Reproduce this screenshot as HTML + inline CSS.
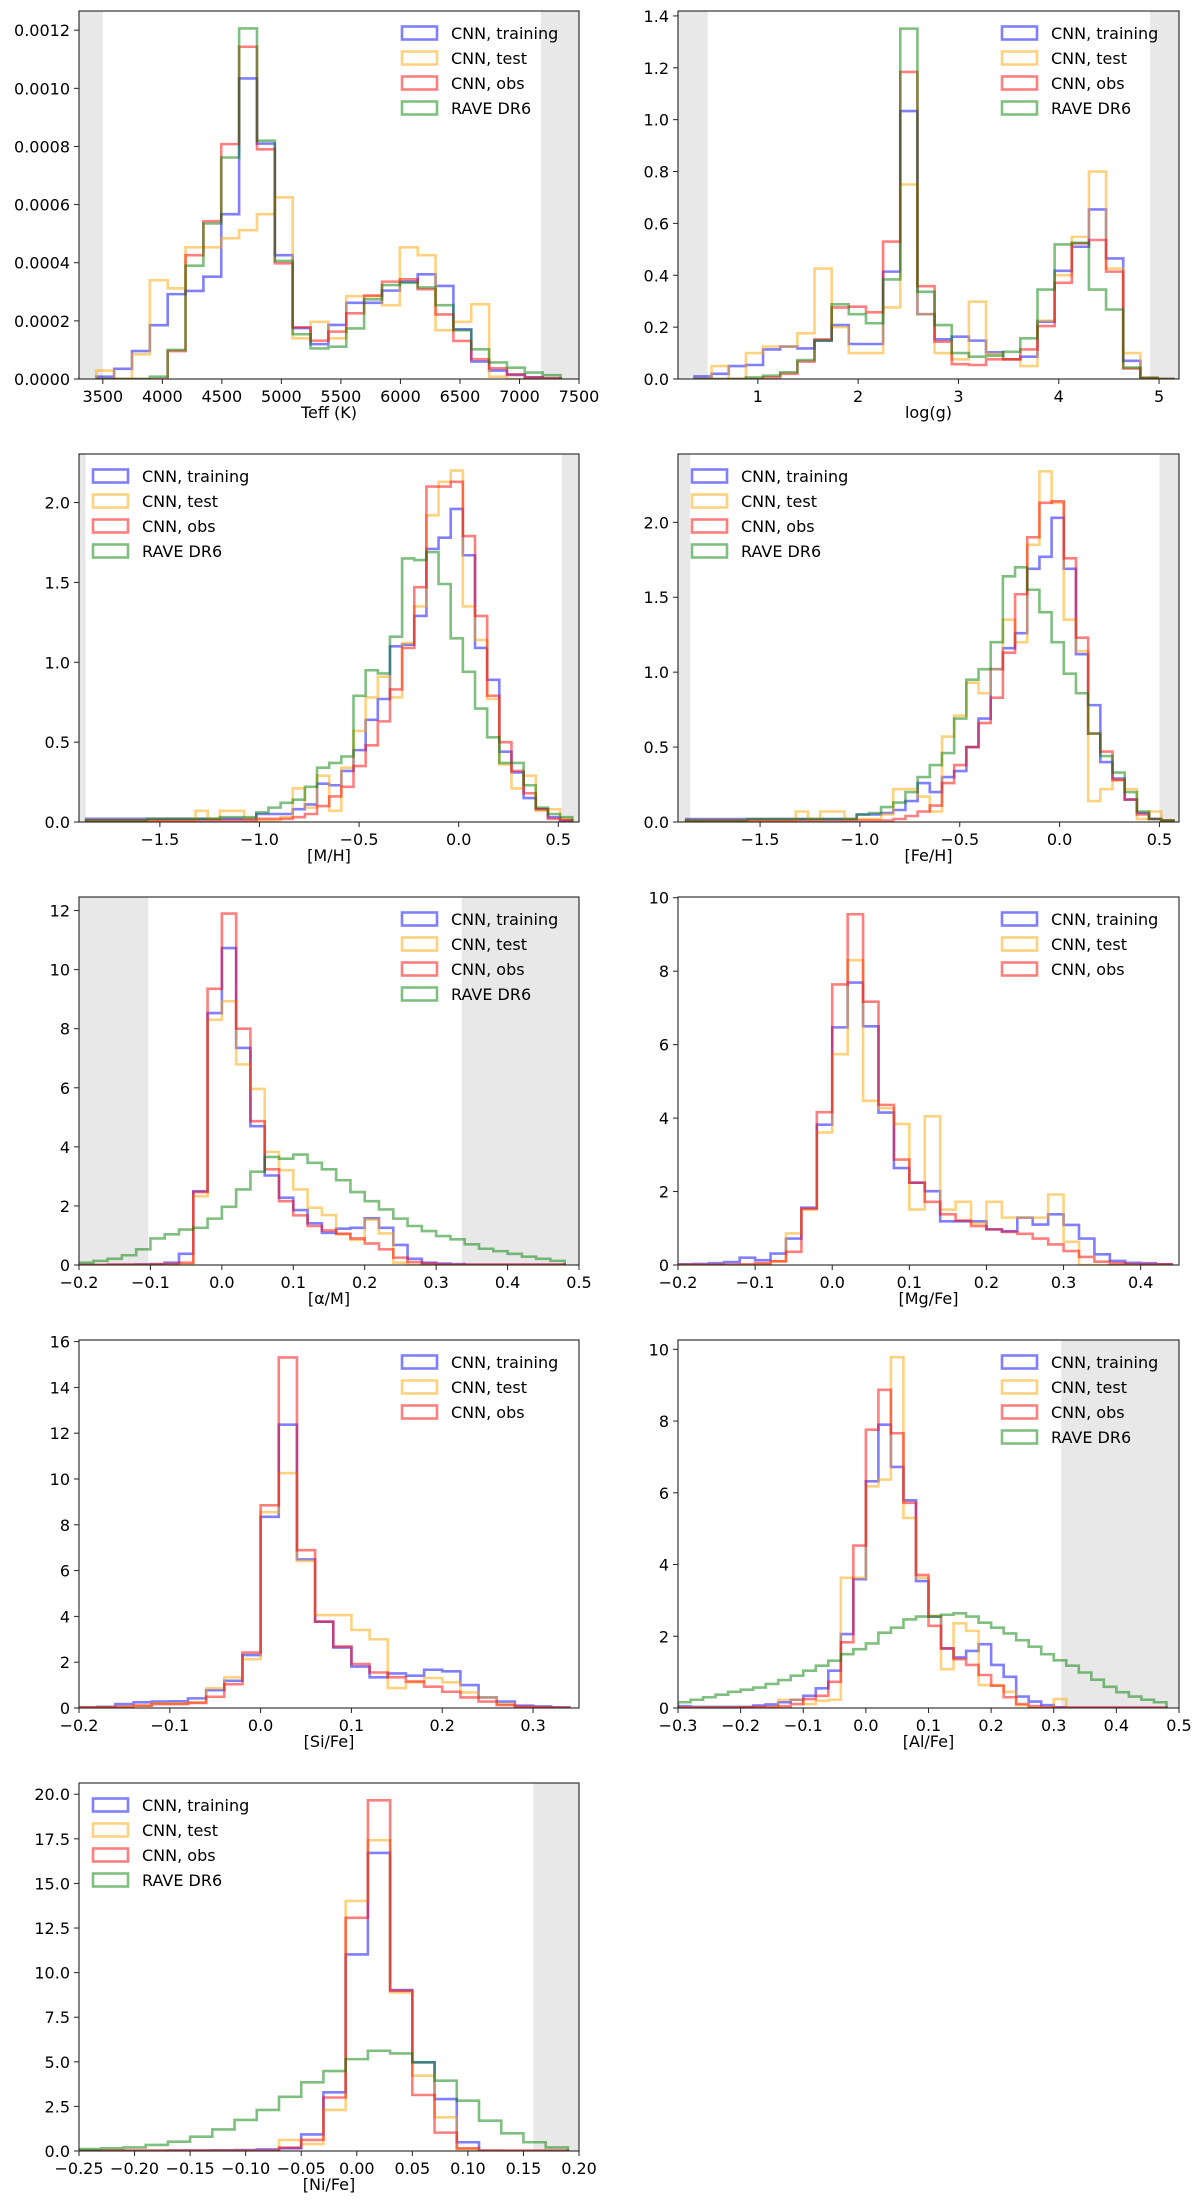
<!DOCTYPE html>
<html><head><meta charset="utf-8"><title>CNN vs RAVE DR6 histograms</title>
<style>
html,body{margin:0;padding:0;background:#fff;}
svg{display:block;}
text{font-family:"DejaVu Sans","Liberation Sans",sans-serif;fill:#000;}
</style></head>
<body>
<svg id="fig" width="1200" height="2202" viewBox="0 0 1200 2202" xmlns="http://www.w3.org/2000/svg"></svg>
<script>
// ---------- DATA (bin start, bin width in data units, and densities) ----------
const teffBin = [3445, 150];
const teffBlue   = [0.08,0.35,0.96,1.85,2.92,3.03,3.52,5.67,10.34,8.1,4.26,1.75,1.2,1.86,2.62,2.62,3.04,3.35,3.6,3.2,1.71,0.6,0.29,0.14,0.06,0.02];
const teffOrange = [0.29,0,0.85,3.4,3.12,4.53,4.53,4.84,5.12,5.67,6.25,1.4,1.97,1.4,2.85,2.85,2.54,4.53,4.26,1.68,1.97,2.57,0.08,0,0,0];
const teffRed    = [0,0,0,0,0.96,4.26,5.43,8.08,11.43,7.9,3.98,1.78,1.32,1.63,2.26,2.87,3.35,3.43,3.09,2.22,1.31,0.68,0.37,0.16,0.05,0.02];
const teffGreen  = [0,0,0,0.08,1.0,3.9,5.35,7.62,12.06,8.2,4.06,1.54,1.05,1.11,1.74,2.74,3.23,3.31,3.15,2.54,1.68,1.02,0.57,0.39,0.22,0.13];
const teffYTicks = ["0.0000","0.0002","0.0004","0.0006","0.0008","0.0010","0.0012"];
const teffXTicks = ["3500","4000","4500","5000","5500","6000","6500","7000","7500"];

const loggBin = [0.368, 0.171];
const loggBlue   = [0.01,0.02,0.05,0.054,0.114,0.125,0.118,0.148,0.208,0.135,0.135,0.414,1.033,0.25,0.153,0.163,0.148,0.103,0.076,0.086,0.221,0.417,0.51,0.654,0.465,0.07,0.004,0];
const loggOrange = [0,0.05,0,0.1,0.125,0.125,0.176,0.426,0.2,0.1,0.1,0.276,0.75,0.25,0.1,0.076,0.298,0.096,0.076,0.05,0.225,0.4,0.548,0.8,0.426,0.1,0.004,0];
const loggRed    = [0,0,0,0,0.006,0.02,0.067,0.153,0.276,0.279,0.257,0.53,1.184,0.358,0.144,0.057,0.054,0.076,0.076,0.114,0.204,0.371,0.523,0.536,0.414,0.04,0.004,0];
const loggGreen  = [0,0,0,0.006,0.013,0.026,0.073,0.148,0.288,0.25,0.215,0.384,1.351,0.336,0.208,0.1,0.086,0.09,0.105,0.157,0.345,0.519,0.525,0.345,0.268,0.044,0.004,0];
const loggYTicks = ["0.0","0.2","0.4","0.6","0.8","1.0","1.2","1.4"];
const loggXTicks = ["1","2","3","4","5"];

const mhBin = [-1.87, 0.061];
const mhBlue   = [0.02,0.02,0.02,0.02,0.02,0.02,0.02,0.02,0.02,0.02,0.02,0.02,0.02,0.02,0.05,0.05,0.05,0.08,0.11,0.24,0.23,0.32,0.45,0.64,0.77,1.1,1.11,1.29,1.71,1.78,1.96,1.67,1.09,0.89,0.44,0.31,0.15,0.08,0.03,0.01];
const mhOrange = [0.01,0.01,0.01,0.01,0.01,0.01,0.01,0.01,0.01,0.07,0.02,0.07,0.07,0.02,0.01,0.01,0.03,0.21,0.09,0.29,0.07,0.34,0.57,0.78,0.91,0.78,1.12,1.35,1.92,2.13,2.2,1.35,1.14,0.77,0.36,0.21,0.29,0.07,0.08,0.02];
const mhRed    = [0.01,0.01,0.01,0.01,0.01,0.01,0.01,0.01,0.01,0.01,0.01,0.01,0.01,0.01,0.02,0.02,0.02,0.03,0.05,0.1,0.16,0.22,0.35,0.48,0.63,0.83,1.09,1.47,2.1,2.1,2.13,1.79,1.29,0.79,0.5,0.32,0.18,0.08,0.02,0.01];
const mhGreen  = [0.01,0.01,0.01,0.01,0.01,0.02,0.02,0.02,0.02,0.02,0.02,0.03,0.03,0.03,0.06,0.09,0.12,0.14,0.22,0.34,0.37,0.41,0.79,0.95,0.93,1.16,1.65,1.64,1.69,1.49,1.15,0.94,0.71,0.53,0.37,0.37,0.23,0.09,0.05,0.03];
const mhYTicks = ["0.0","0.5","1.0","1.5","2.0"];
const mhXTicks = ["\u22121.5","\u22121.0","\u22120.5","0.0","0.5"];

const fehBin = [-1.87, 0.061];
const fehBlue   = [0.02,0.02,0.02,0.02,0.02,0.02,0.02,0.02,0.02,0.02,0.02,0.02,0.02,0.02,0.05,0.05,0.06,0.08,0.14,0.26,0.2,0.3,0.34,0.5,0.69,1.02,1.16,1.26,1.69,1.77,2.03,1.69,1.12,0.78,0.4,0.29,0.15,0.06,0.02,0.01];
const fehOrange = [0.01,0.01,0.01,0.01,0.01,0.01,0.01,0.01,0.01,0.07,0.02,0.07,0.07,0.02,0.02,0.02,0.05,0.22,0.22,0.17,0.07,0.57,0.71,0.93,0.86,1.02,1.35,1.2,1.85,2.34,2.13,1.35,1.14,0.14,0.22,0.28,0.22,0.02,0.07,0.01];
const fehRed    = [0.01,0.01,0.01,0.01,0.01,0.01,0.01,0.01,0.01,0.01,0.01,0.01,0.01,0.01,0.01,0.01,0.01,0.02,0.04,0.07,0.11,0.26,0.38,0.5,0.66,0.83,1.13,1.52,1.9,2.13,2.14,1.76,1.23,0.59,0.47,0.28,0.15,0.05,0.02,0.01];
const fehGreen  = [0.01,0.01,0.01,0.01,0.01,0.02,0.02,0.02,0.02,0.02,0.02,0.02,0.02,0.02,0.05,0.06,0.1,0.13,0.2,0.3,0.38,0.46,0.69,0.95,1.02,1.2,1.64,1.7,1.55,1.4,1.2,0.99,0.86,0.59,0.44,0.33,0.2,0.07,0.02,0.01];
const fehYTicks = ["0.0","0.5","1.0","1.5","2.0"];
const fehXTicks = ["\u22121.5","\u22121.0","\u22120.5","0.0","0.5"];

const amBin = [-0.2, 0.02];
const amBlue   = [0,0,0.01,0.01,0.02,0.03,0.08,0.38,2.5,8.53,10.73,7.35,4.7,3.03,2.28,1.86,1.41,1.09,1.23,1.26,1.58,1.26,0.68,0.21,0.08,0.05,0.03,0.01,0.01,0.01,0.01,0.01,0.01,0.01];
const amOrange = [0,0,0,0,0,0.01,0.01,0.01,2.33,8.3,8.93,6.79,5.96,3.83,3.21,2.56,1.94,1.69,1.04,0.85,1.54,1.07,0.08,0,0,0,0,0,0,0,0,0,0,0];
const amRed    = [0,0,0.01,0.01,0.01,0.02,0.03,0.08,2.47,9.35,11.9,8.0,4.87,3.24,2.16,1.68,1.32,1.17,1.06,0.9,0.73,0.53,0.25,0.1,0.05,0.02,0.01,0.01,0.01,0.01,0.01,0.01,0.01,0.01];
const amGreen  = [0.08,0.14,0.21,0.33,0.53,0.9,1.04,1.2,1.26,1.57,1.97,2.56,3.16,3.66,3.6,3.74,3.46,3.24,2.87,2.47,2.16,1.88,1.57,1.32,1.15,0.98,0.87,0.7,0.55,0.47,0.38,0.28,0.21,0.14];
const amYTicks = ["0","2","4","6","8","10","12"];
const amXTicks = ["\u22120.2","\u22120.1","0.0","0.1","0.2","0.3","0.4","0.5"];

const mgBin = [-0.2, 0.02];
const mgBlue   = [0.02,0.03,0.05,0.08,0.2,0.13,0.31,0.72,1.56,3.82,6.47,7.69,6.5,4.15,2.64,2.24,2.01,1.19,1.19,1.19,0.97,0.92,1.29,1.1,1.38,1.09,0.72,0.29,0.11,0.06,0.05,0.02];
const mgOrange = [0,0,0,0,0,0.02,0.1,0.86,1.51,3.61,5.74,8.3,4.47,4.27,3.84,1.51,4.05,1.51,1.72,1.13,1.72,1.29,1.29,1.29,1.92,0.63,0,0,0,0,0,0];
const mgRed    = [0.01,0.01,0.01,0.01,0.02,0.05,0.1,0.36,1.53,4.16,7.64,9.55,7.17,4.36,2.87,2.24,1.72,1.38,1.21,1.06,0.97,0.9,0.85,0.72,0.56,0.38,0.22,0.09,0.05,0.02,0.02,0.02];
const mgYTicks = ["0","2","4","6","8","10"];
const mgXTicks = ["\u22120.2","\u22120.1","0.0","0.1","0.2","0.3","0.4"];

const siBin = [-0.2, 0.02];
const siBlue   = [0.03,0.05,0.17,0.25,0.28,0.29,0.42,0.78,1.19,2.31,8.35,12.37,6.49,3.77,2.64,1.81,1.34,1.51,1.41,1.67,1.6,1.0,0.46,0.28,0.1,0.07,0.03];
const siOrange = [0.02,0.03,0.05,0.1,0.2,0.2,0.25,0.86,1.34,2.13,8.55,10.26,6.42,4.06,4.06,3.41,3.0,0.87,1.12,1.31,1.12,0.68,0.46,0.17,0.02,0.01,0.01];
const siRed    = [0.02,0.03,0.05,0.1,0.17,0.17,0.22,0.49,1.04,2.42,8.85,15.31,6.89,3.77,2.69,1.92,1.55,1.34,1.16,0.93,0.71,0.46,0.28,0.13,0.06,0.03,0.01];
const siYTicks = ["0","2","4","6","8","10","12","14","16"];
const siXTicks = ["\u22120.2","\u22120.1","0.0","0.1","0.2","0.3"];

const alBin = [-0.3, 0.02];
const alBlue   = [0.05,0.03,0.03,0.03,0.03,0.03,0.07,0.1,0.16,0.23,0.34,0.55,1.04,2.06,3.59,6.32,7.9,6.72,5.79,3.54,2.55,1.66,1.41,1.59,1.78,1.2,0.87,0.32,0.18,0.08,0.02,0.01,0.01,0.01,0.01,0.01,0.01,0.01,0.01];
const alOrange = [0.01,0.01,0.01,0.01,0.01,0.01,0.01,0.01,0.23,0.23,0.11,0.2,0.23,3.63,3.63,6.18,6.37,9.78,5.3,3.63,2.57,1.08,2.36,2.15,0.64,0.64,0.45,0.08,0,0,0.25,0,0,0,0,0,0,0,0];
const alRed    = [0.01,0.01,0.01,0.01,0.01,0.02,0.03,0.03,0.05,0.11,0.25,0.34,0.73,1.83,4.53,7.76,8.87,7.66,5.72,3.71,2.29,1.66,1.36,1.2,0.92,0.62,0.3,0.11,0.05,0.02,0.01,0.01,0.01,0.01,0.01,0.01,0.01,0.01,0.01];
const alGreen  = [0.16,0.23,0.3,0.37,0.45,0.51,0.57,0.67,0.78,0.9,1.04,1.18,1.32,1.5,1.64,1.8,2.1,2.24,2.47,2.55,2.55,2.6,2.64,2.55,2.38,2.24,2.08,1.89,1.71,1.5,1.33,1.18,0.99,0.79,0.59,0.44,0.32,0.23,0.16];
const alYTicks = ["0","2","4","6","8","10"];
const alXTicks = ["\u22120.3","\u22120.2","\u22120.1","0.0","0.1","0.2","0.3","0.4","0.5"];

const niBin = [-0.25, 0.02];
const niBlue   = [0.02,0.02,0.02,0.02,0.03,0.03,0.04,0.05,0.09,0.15,0.93,3.29,11.02,16.71,9.02,4.97,2.91,0.49,0.02,0.01,0.01,0.01];
const niOrange = [0.01,0.01,0.01,0.01,0.01,0.01,0.01,0.01,0.01,0.62,0.39,2.3,14.02,17.42,8.89,4.22,1.89,0.11,0.01,0.01,0.01,0.01];
const niRed    = [0.02,0.02,0.02,0.02,0.02,0.02,0.02,0.02,0.02,0.19,0.62,3.0,13.07,19.66,8.98,3.14,1.03,0.15,0.02,0.02,0.02,0.02];
const niGreen  = [0.11,0.15,0.2,0.34,0.52,0.8,1.21,1.74,2.3,3.04,3.85,4.48,5.15,5.62,5.47,4.97,3.94,2.82,1.7,0.99,0.49,0.2];
const niYTicks = ["0.0","2.5","5.0","7.5","10.0","12.5","15.0","17.5","20.0"];
const niXTicks = ["\u22120.25","\u22120.20","\u22120.15","\u22120.10","\u22120.05","0.00","0.05","0.10","0.15","0.20"];

const seriesNames = ["CNN, training","CNN, test","CNN, obs","RAVE DR6"];
const seriesColors = ["#0000ff","#ffa500","#ff0000","#008000"];

// ---------- LAYOUT ----------
const colX = [[79,579],[678,1179]];
function rowY(r){ return [11+443*r, 379+443*r]; }

const panels = [
 {id:"teff", col:0,row:0, xlim:[3300,7500], ylim:[0,12.66], yscale:1e-4, bin:teffBin, s:[teffBlue,teffOrange,teffRed,teffGreen], xt:teffXTicks, yt:teffYTicks, label:"Teff (K)", spans:[[3300,3500],[7180,7500]], leg:"r"},
 {id:"logg", col:1,row:0, xlim:[0.204,5.199], ylim:[0,1.419], yscale:1, bin:loggBin, s:[loggBlue,loggOrange,loggRed,loggGreen], xt:loggXTicks, yt:loggYTicks, label:"log(g)", spans:[[0.204,0.5],[4.91,5.199]], leg:"r"},
 {id:"mh", col:0,row:1, xlim:[-1.906,0.604], ylim:[0,2.304], yscale:1, bin:mhBin, s:[mhBlue,mhOrange,mhRed,mhGreen], xt:mhXTicks, yt:mhYTicks, label:"[M/H]", spans:[[-1.906,-1.873],[0.517,0.604]], leg:"l"},
 {id:"feh", col:1,row:1, xlim:[-1.911,0.598], ylim:[0,2.456], yscale:1, bin:fehBin, s:[fehBlue,fehOrange,fehRed,fehGreen], xt:fehXTicks, yt:fehYTicks, label:"[Fe/H]", spans:[[-1.911,-1.85],[0.5,0.598]], leg:"l"},
 {id:"alpham", col:0,row:2, xlim:[-0.2,0.5], ylim:[0,12.46], yscale:1, bin:amBin, s:[amBlue,amOrange,amRed,amGreen], xt:amXTicks, yt:amYTicks, label:"[\u03b1/M]", spans:[[-0.2,-0.103],[0.336,0.5]], leg:"r"},
 {id:"mgfe", col:1,row:2, xlim:[-0.2,0.4497], ylim:[0,10.02], yscale:1, bin:mgBin, s:[mgBlue,mgOrange,mgRed], xt:mgXTicks, yt:mgYTicks, label:"[Mg/Fe]", spans:[], leg:"r"},
 {id:"sife", col:0,row:3, xlim:[-0.2,0.3506], ylim:[0,16.07], yscale:1, bin:siBin, s:[siBlue,siOrange,siRed], xt:siXTicks, yt:siYTicks, label:"[Si/Fe]", spans:[], leg:"r"},
 {id:"alfe", col:1,row:3, xlim:[-0.3,0.5], ylim:[0,10.26], yscale:1, bin:alBin, s:[alBlue,alOrange,alRed,alGreen], xt:alXTicks, yt:alYTicks, label:"[Al/Fe]", spans:[[0.312,0.5]], leg:"r"},
 {id:"nife", col:0,row:4, xlim:[-0.25,0.2], ylim:[0,20.63], yscale:1, bin:niBin, s:[niBlue,niOrange,niRed,niGreen], xt:niXTicks, yt:niYTicks, label:"[Ni/Fe]", spans:[[0.159,0.2]], leg:"l"}
];

const NS = "http://www.w3.org/2000/svg";
const svg = document.getElementById("fig");
function mk(tag, attrs, parent){
  const e = document.createElementNS(NS, tag);
  for (const k in attrs) e.setAttribute(k, attrs[k]);
  (parent||svg).appendChild(e);
  return e;
}
function parseTick(t){ return parseFloat(t.replace("\u2212","-")); }

panels.forEach(p => {
  const [L,R] = colX[p.col];
  const [T,B] = rowY(p.row);
  const sx = v => L + (v - p.xlim[0])/(p.xlim[1]-p.xlim[0])*(R-L);
  const sy = v => B - (v - p.ylim[0])/(p.ylim[1]-p.ylim[0])*(B-T);

  const g = mk("g", {});
  
  

  // clip
  const cp = mk("clipPath", {id:"clip-"+p.id}, g);
  mk("rect", {x:L, y:T, width:R-L, height:B-T}, cp);

  // shaded spans
  p.spans.forEach(sp => {
    const r = mk("rect", {x:sx(sp[0]), y:T, width:sx(sp[1])-sx(sp[0]), height:B-T, fill:"#e8e8e8"}, g);
    
    
  });

  // histograms
  const hg = mk("g", {"clip-path":"url(#clip-"+p.id+")"}, g);
  p.s.forEach((vals, si) => {
    const start = p.bin[0], w = p.bin[1];
    let d = "M" + sx(start).toFixed(2) + "," + sy(0).toFixed(2);
    vals.forEach((v, i) => {
      const x0 = sx(start + i*w), x1 = sx(start + (i+1)*w), y = sy(v);
      d += " L" + x0.toFixed(2) + "," + y.toFixed(2) + " L" + x1.toFixed(2) + "," + y.toFixed(2);
    });
    d += " L" + sx(start + vals.length*w).toFixed(2) + "," + sy(0).toFixed(2);
    const path = mk("path", {d:d, fill:"none", stroke:seriesColors[si], "stroke-opacity":0.5, "stroke-width":2.6, "stroke-linejoin":"miter"}, hg);
    
    
  });

  // frame
  const fr = mk("rect", {x:L, y:T, width:R-L, height:B-T, fill:"none", stroke:"#222", "stroke-width":1.1}, g);
  
  

  // x ticks
  p.xt.forEach(t => {
    const v = parseTick(t), x = sx(v);
    mk("line", {x1:x, y1:B, x2:x, y2:B+5, stroke:"#222", "stroke-width":1}, g);
    const tx = mk("text", {x:x, y:B+23, "text-anchor":"middle", "font-size":16}, g);
    tx.textContent = t;
    
    
  });
  // y ticks
  p.yt.forEach(t => {
    const v = parseTick(t)/p.yscale, y = sy(v);
    mk("line", {x1:L-5, y1:y, x2:L, y2:y, stroke:"#222", "stroke-width":1}, g);
    const ty = mk("text", {x:L-9, y:y+6, "text-anchor":"end", "font-size":16}, g);
    ty.textContent = t;
    
    
  });
  // x label
  const xl = mk("text", {x:(L+R)/2, y:B+39, "text-anchor":"middle", "font-size":16}, g);
  xl.textContent = p.label;
  
  

  // legend
  const lg = mk("g", {}, g);
  
  
  const px = p.leg === "r" ? R-177 : L+14;
  const txx = p.leg === "r" ? R-128 : L+63;
  p.s.forEach((vals, si) => {
    const cy = T + 22 + si*25;
    const ent = mk("g", {}, lg);
    
    
    mk("rect", {x:px, y:cy-6.5, width:35, height:13, fill:"none", stroke:seriesColors[si], "stroke-opacity":0.5, "stroke-width":2.6}, ent);
    const lt = mk("text", {x:txx, y:cy+6, "font-size":16}, ent);
    lt.textContent = seriesNames[si];
  });
});
</script>
</body></html>
